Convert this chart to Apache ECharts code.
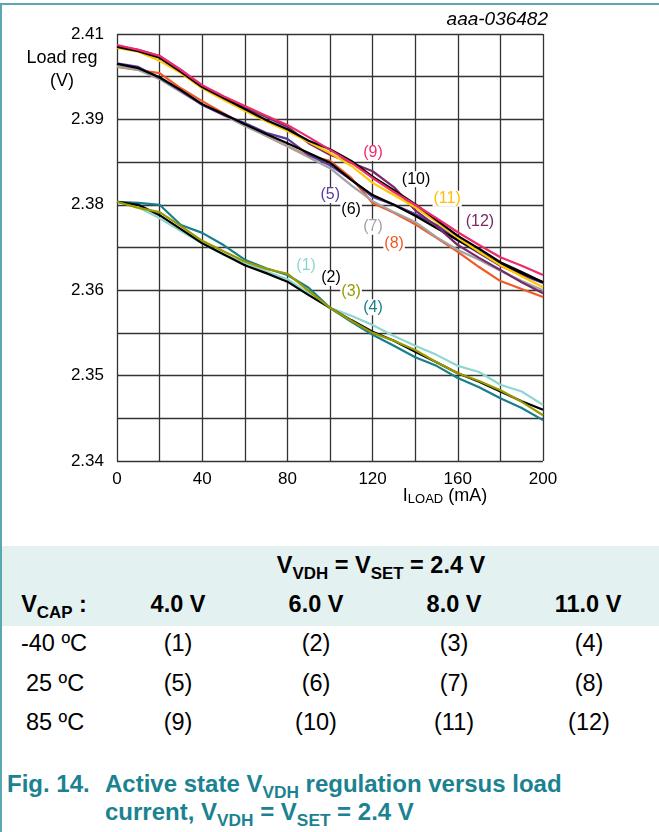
<!DOCTYPE html>
<html>
<head>
<meta charset="utf-8">
<script src="https://cdn.jsdelivr.net/npm/echarts@6/dist/echarts.min.js"></script>
<style>
html,body{margin:0;padding:0;background:#fff;}
#wrap{position:relative;width:659px;height:832px;overflow:hidden;font-family:'Liberation Sans',Arial,sans-serif;}
#chart{position:absolute;left:0;top:0;width:659px;height:540px;}
.frameTop{position:absolute;left:0;top:3px;width:659px;height:2px;background:#5ba7b0;z-index:5;}
.frameLeft{position:absolute;left:0;top:3px;width:2px;height:829px;background:#5ba7b0;z-index:5;}
.band{position:absolute;left:2px;top:546px;width:657px;height:80px;background:#e4f1f1;}
.t{position:absolute;transform:translate(-50%,-50%);white-space:nowrap;font-size:23.5px;color:#000;line-height:1;}
.b{font-weight:bold;}
sub{font-size:0.72em;vertical-align:-0.33em;line-height:0;}
.cap{position:absolute;color:#1b8291;font-weight:bold;font-size:24px;white-space:nowrap;line-height:1;transform:translateY(-50%);}
</style>
</head>
<body>
<div id="wrap">
  <div id="chart"></div>
  <div class="frameTop"></div>
  <div class="frameLeft"></div>
  <div class="band"></div>
  <div class="t b" style="left:381px;top:566px;">V<sub>VDH</sub> = V<sub>SET</sub> = 2.4 V</div>
  <div class="t b" style="left:54px;top:605px;">V<sub>CAP</sub> :</div>
  <div class="t b" style="left:178px;top:605px;">4.0 V</div>
  <div class="t b" style="left:316px;top:605px;">6.0 V</div>
  <div class="t b" style="left:454px;top:605px;">8.0 V</div>
  <div class="t b" style="left:588px;top:605px;">11.0 V</div>
  <div class="t" style="left:54px;top:644px;">-40 ºC</div>
  <div class="t" style="left:178px;top:644px;">(1)</div>
  <div class="t" style="left:316px;top:644px;">(2)</div>
  <div class="t" style="left:454px;top:644px;">(3)</div>
  <div class="t" style="left:589px;top:644px;">(4)</div>
  <div class="t" style="left:55px;top:684px;">25 ºC</div>
  <div class="t" style="left:178px;top:684px;">(5)</div>
  <div class="t" style="left:316px;top:684px;">(6)</div>
  <div class="t" style="left:454px;top:684px;">(7)</div>
  <div class="t" style="left:589px;top:684px;">(8)</div>
  <div class="t" style="left:55px;top:723px;">85 ºC</div>
  <div class="t" style="left:178px;top:723px;">(9)</div>
  <div class="t" style="left:316px;top:723px;">(10)</div>
  <div class="t" style="left:454px;top:723px;">(11)</div>
  <div class="t" style="left:589px;top:723px;">(12)</div>
  <div class="cap" style="left:7px;top:784px;">Fig. 14.</div>
  <div class="cap" style="left:105px;top:784px;">Active state V<sub>VDH</sub> regulation versus load</div>
  <div class="cap" style="left:105px;top:812px;">current, V<sub>VDH</sub> = V<sub>SET</sub> = 2.4 V</div>
</div>
<script>
// ---- data ----
const loadCurrent = [0,10,20,30,40,50,60,70,80,90,100,110,120,130,140,150,160,170,180,190,200];
// -40 C
const s1 = [2.3825,2.3816,2.3798,2.3777,2.3757,2.3738,2.3725,2.3711,2.3698,2.3675,2.3651,2.3638,2.3623,2.3605,2.3589,2.3574,2.3556,2.3546,2.3525,2.3514,2.3492];
const s2 = [2.3825,2.3820,2.3803,2.3780,2.3757,2.3739,2.3721,2.3708,2.3694,2.3672,2.3651,2.3631,2.3612,2.3597,2.3579,2.3562,2.3544,2.3530,2.3514,2.3498,2.3484];
const s3 = [2.3825,2.3815,2.3808,2.3785,2.3761,2.3744,2.3727,2.3715,2.3707,2.3679,2.3651,2.3630,2.3610,2.3597,2.3582,2.3562,2.3544,2.3531,2.3516,2.3497,2.3475];
const s4 = [2.3825,2.3823,2.3820,2.3787,2.3774,2.3754,2.3730,2.3716,2.3705,2.3684,2.3651,2.3628,2.3607,2.3589,2.3570,2.3556,2.3536,2.3521,2.3503,2.3487,2.3467];
// 25 C
const s5 = [2.4052,2.4046,2.4028,2.4007,2.3984,2.3967,2.3954,2.3938,2.3928,2.3902,2.3885,2.3861,2.3833,2.3820,2.3805,2.3787,2.3762,2.3741,2.3720,2.3705,2.3692];
const s6 = [2.4051,2.4044,2.4029,2.4008,2.3985,2.3969,2.3952,2.3936,2.3921,2.3905,2.3889,2.3861,2.3836,2.3820,2.3802,2.3782,2.3762,2.3743,2.3723,2.3708,2.3693];
const s7 = [2.4047,2.4041,2.4026,2.4005,2.3984,2.3967,2.3949,2.3933,2.3916,2.3898,2.3880,2.3852,2.3826,2.3808,2.3792,2.3767,2.3746,2.3730,2.3712,2.3695,2.3680];
const s8 = [2.4046,2.4041,2.4036,2.4011,2.3990,2.3970,2.3951,2.3933,2.3916,2.3900,2.3892,2.3864,2.3823,2.3807,2.3788,2.3766,2.3743,2.3718,2.3695,2.3682,2.3669];
// 85 C
const s9  = [2.4082,2.4074,2.4064,2.4041,2.4016,2.3998,2.3982,2.3966,2.3951,2.3931,2.3910,2.3889,2.3864,2.3841,2.3820,2.3798,2.3775,2.3754,2.3734,2.3720,2.3705];
const s10 = [2.4079,2.4072,2.4061,2.4038,2.4013,2.3995,2.3977,2.3959,2.3944,2.3925,2.3911,2.3892,2.3866,2.3844,2.3821,2.3795,2.3769,2.3748,2.3726,2.3710,2.3693];
const s11 = [2.4077,2.4071,2.4056,2.4036,2.4011,2.3992,2.3974,2.3957,2.3941,2.3923,2.3905,2.3884,2.3856,2.3836,2.3816,2.3792,2.3766,2.3743,2.3721,2.3703,2.3685];
const s12 = [2.4080,2.4074,2.4064,2.4041,2.4015,2.3997,2.3980,2.3964,2.3948,2.3921,2.3902,2.3889,2.3875,2.3849,2.3811,2.3785,2.3754,2.3733,2.3713,2.3693,2.3675];
const curveNames = ['(1)','(2)','(3)','(4)','(5)','(6)','(7)','(8)','(9)','(10)','(11)','(12)'];
const xTickLabels = ['0','40','80','120','160','200'];
const yTickLabels = ['2.34','2.35','2.36','2.38','2.39','2.41'];

// ---- styling ----
const curves = [s1,s2,s3,s4,s5,s6,s7,s8,s9,s10,s11,s12];
const lineColors = ['#8fd6ce','#000000','#999a00','#177f8c','#5a3c9c','#000000','#a3a3a3','#f15a24','#ec2a6c','#000000','#ffc800','#772a6a'];
const labelColors = ['#8fd6ce','#000000','#999a00','#177f8c','#5a3c9c','#000000','#a3a3a3','#f15a24','#ec2a6c','#000000','#ffc000','#772a6a'];
const labelAt = [[88.8,2.3721],[100.5,2.3700],[109.9,2.3677],[120.2,2.3652],[100.1,2.3836],[109.9,2.3812],[120.2,2.3784],[130.1,2.3756],[120.2,2.3905],[140.4,2.3862],[155,2.3830],[170.4,2.3792]];
const drawOrder = [3,0,1,2,7,6,4,5,11,10,9,8];
const FONT = "'Liberation Sans', Arial, sans-serif";

const series = drawOrder.map(i => ({
  name: curveNames[i],
  type: 'line',
  xAxisIndex: 0,
  yAxisIndex: 0,
  showSymbol: false,
  symbol: 'none',
  data: loadCurrent.map((x, k) => [x, curves[i][k]]),
  lineStyle: { color: lineColors[i], width: 2.2 },
  itemStyle: { color: lineColors[i] },
  z: 3,
  markPoint: {
    symbol: 'rect',
    symbolSize: 1,
    itemStyle: { color: 'rgba(0,0,0,0)' },
    z: 10,
    data: [{ coord: labelAt[i] }],
    label: {
      show: true,
      position: 'inside',
      formatter: curveNames[i],
      color: labelColors[i],
      fontSize: 16,
      fontFamily: FONT,
      backgroundColor: '#ffffff',
      padding: [0, 1, 0, 1]
    }
  }
}));

const chart = echarts.init(document.getElementById('chart'), null, { renderer: 'canvas' });
chart.setOption({
  animation: false,
  backgroundColor: 'transparent',
  grid: { left: 117, top: 34, width: 426, height: 427, containLabel: false },
  xAxis: {
    type: 'value', min: 0, max: 200, interval: 20,
    axisLine: { show: false }, axisTick: { show: false },
    axisLabel: {
      margin: 10, fontSize: 17, fontFamily: FONT, color: '#000',
      formatter: v => (Math.round(v) % 40 === 0 ? xTickLabels[Math.round(v) / 40] : '')
    },
    splitLine: { show: true, lineStyle: { color: '#333333', width: 1.3 } }
  },
  yAxis: [
    { type: 'value', min: 2.34, max: 2.41, show: false, splitLine: { show: false } },
    {
      type: 'value', min: 0, max: 10, interval: 1, position: 'left',
      axisLine: { show: false }, axisTick: { show: false },
      axisLabel: {
        margin: 13, fontSize: 17, fontFamily: FONT, color: '#000',
        formatter: v => (Math.round(v) % 2 === 0 ? yTickLabels[Math.round(v) / 2] : '')
      },
      splitLine: { show: true, lineStyle: { color: '#333333', width: 1.3 } }
    }
  ],
  series: series,
  graphic: [
    { type: 'text', x: 548, y: 20, style: { text: 'aaa-036482', align: 'right', verticalAlign: 'middle', textAlign: 'right', textVerticalAlign: 'middle', fontSize: 19, fontStyle: 'italic', fontFamily: FONT, fill: '#000' } },
    { type: 'text', x: 62, y: 58, style: { text: 'Load reg', align: 'center', verticalAlign: 'middle', textAlign: 'center', textVerticalAlign: 'middle', fontSize: 18, fontFamily: FONT, fill: '#000' } },
    { type: 'text', x: 62, y: 81, style: { text: '(V)', align: 'center', verticalAlign: 'middle', textAlign: 'center', textVerticalAlign: 'middle', fontSize: 18, fontFamily: FONT, fill: '#000' } },
    { type: 'text', x: 445, y: 496, style: {
        text: '{a|I}{s|LOAD}{a| (mA)}', align: 'center', verticalAlign: 'middle', textAlign: 'center', textVerticalAlign: 'middle',
        rich: {
          a: { fontSize: 18, lineHeight: 20, fontFamily: FONT, fill: '#000', color: '#000' },
          s: { fontSize: 13, lineHeight: 13, verticalAlign: 'bottom', fontFamily: FONT, fill: '#000', color: '#000' }
        }
      } }
  ]
});
</script>
</body>
</html>
